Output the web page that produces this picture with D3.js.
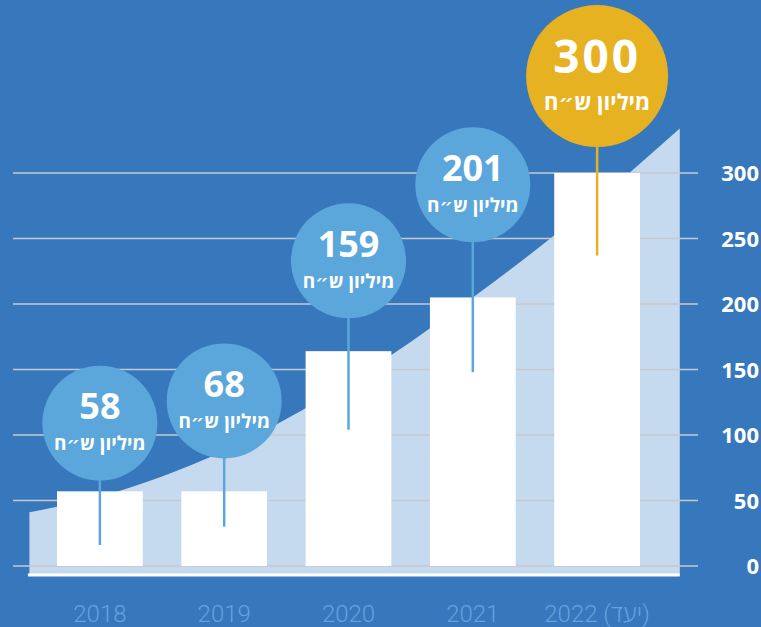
<!DOCTYPE html>
<html>
<head>
<meta charset="utf-8">
<script src="https://cdn.jsdelivr.net/npm/d3@7"></script>
<style>
  html, body { margin: 0; padding: 0; background: #3777bc; }
  svg { display: block; }
</style>
</head>
<body>
<svg id="chart" width="761" height="627"></svg>
<script>
// ---- data ----
const years = ["2018", "2019", "2020", "2021", "2022"];
const yearLabels = ["2018", "2019", "2020", "2021", "2022\u200E (יעד)"];
const barValues = [57, 57, 164, 205, 300];          // bar heights
const bubbleNumbers = ["58", "68", "159", "201", "300"];
const bubbleUnit = "מיליון ש״ח";
const yTicks = [0, 50, 100, 150, 200, 250, 300];
// decorative growth area behind the bars (index position, value)
const trendIndex = [-0.567, 0, 1, 2, 3, 4, 4.665];
const trendValues = [41, 53, 88, 140, 205, 279, 334];
// bubble anchors (value units) and stem ends (value units)
const bubbleLevel = [109, 126, 233, 291, 374];
const stemEnd = [16, 30, 104, 148, 237];

// ---- layout ----
const svg = d3.select("#chart");
const W = 761, H = 627;
svg.append("rect").attr("width", W).attr("height", H).attr("fill", "#3777bc");

const y = d3.scaleLinear().domain([0, 300]).range([566, 173]);
const x = d3.scaleBand().domain(years).range([57, 640]).paddingInner(0.31).paddingOuter(0);
const cx = d => x(d) + x.bandwidth() / 2;
const xi = d3.scaleLinear().domain([0, 4]).range([cx(years[0]), cx(years[4])]);

const base = y(0) + 9;

// area
const trend = trendIndex.map((t, i) => ({ t, v: trendValues[i] }));
const area = d3.area()
  .x(d => xi(d.t))
  .y0(base)
  .y1(d => y(d.v))
  .curve(d3.curveMonotoneX);
svg.append("path").datum(trend).attr("d", area).attr("fill", "#c5daee");

// gridlines
svg.append("g").selectAll("line").data(yTicks).join("line")
  .attr("x1", 13).attr("x2", 698)
  .attr("y1", d => y(d)).attr("y2", d => y(d))
  .attr("stroke", "#c6c9cf").attr("stroke-width", 1.6);

// white baseline
svg.append("line")
  .attr("x1", xi(trendIndex[0]) - 1.5).attr("x2", xi(trendIndex[trendIndex.length - 1]))
  .attr("y1", base).attr("y2", base)
  .attr("stroke", "#ffffff").attr("stroke-width", 3);

// bars
svg.append("g").selectAll("rect").data(years).join("rect")
  .attr("x", d => x(d)).attr("width", x.bandwidth())
  .attr("y", (d, i) => y(barValues[i]))
  .attr("height", (d, i) => y(0) - y(barValues[i]))
  .attr("fill", "#ffffff");

// y axis labels (right)
const axis = d3.axisRight(y).tickValues(yTicks).tickSize(0).tickPadding(0);
const ag = svg.append("g").attr("transform", "translate(759,0)").call(axis);
ag.select(".domain").remove();
ag.selectAll("text")
  .attr("text-anchor", "end")
  .attr("x", 0)
  .attr("dy", "0.36em")
  .attr("fill", "#ffffff")
  .style("font-family", "'Open Sans', 'DejaVu Sans', sans-serif")
  .style("font-weight", 700)
  .style("font-size", "22px");

// x axis labels (bottom)
svg.append("g").selectAll("text").data(years).join("text")
  .attr("x", d => cx(d))
  .attr("y", 622)
  .attr("text-anchor", "middle")
  .attr("fill", "#5fa5df")
  .style("font-family", "Roboto, 'Open Sans', sans-serif")
  .style("font-weight", 300)
  .style("font-size", "24px")
  .text((d, i) => yearLabels[i]);

// stems and bubbles
const last = years.length - 1;
const colorFor = i => i === last ? "#e7b222" : "#5ba7dc";
const radiusFor = i => i === last ? 71 : 57.5;

svg.append("g").selectAll("line").data(years).join("line")
  .attr("x1", d => cx(d)).attr("x2", d => cx(d))
  .attr("y1", (d, i) => y(bubbleLevel[i]))
  .attr("y2", (d, i) => y(stemEnd[i]))
  .attr("stroke", (d, i) => colorFor(i))
  .attr("stroke-width", 2.5);

const bub = svg.append("g").selectAll("g").data(years).join("g")
  .attr("transform", (d, i) => `translate(${cx(d)},${y(bubbleLevel[i])})`);

bub.append("circle")
  .attr("r", (d, i) => radiusFor(i))
  .attr("fill", (d, i) => colorFor(i));

bub.append("text")
  .attr("y", (d, i) => i === last ? -3 : -4)
  .attr("text-anchor", "middle")
  .attr("fill", "#ffffff")
  .style("font-family", "'Open Sans', 'DejaVu Sans', sans-serif")
  .style("font-weight", 700)
  .style("font-size", (d, i) => i === last ? "46px" : "36px")
  .style("letter-spacing", (d, i) => i === last ? "3px" : "0px")
  .text((d, i) => bubbleNumbers[i]);

bub.append("text")
  .attr("y", (d, i) => i === last ? 34 : 27)
  .attr("text-anchor", "middle")
  .attr("fill", "#ffffff")
  .style("font-family", "'Open Sans', 'DejaVu Sans', sans-serif")
  .style("font-weight", 700)
  .style("font-size", (d, i) => i === last ? "22px" : "19px")
  .text(bubbleUnit);
</script>
</body>
</html>
